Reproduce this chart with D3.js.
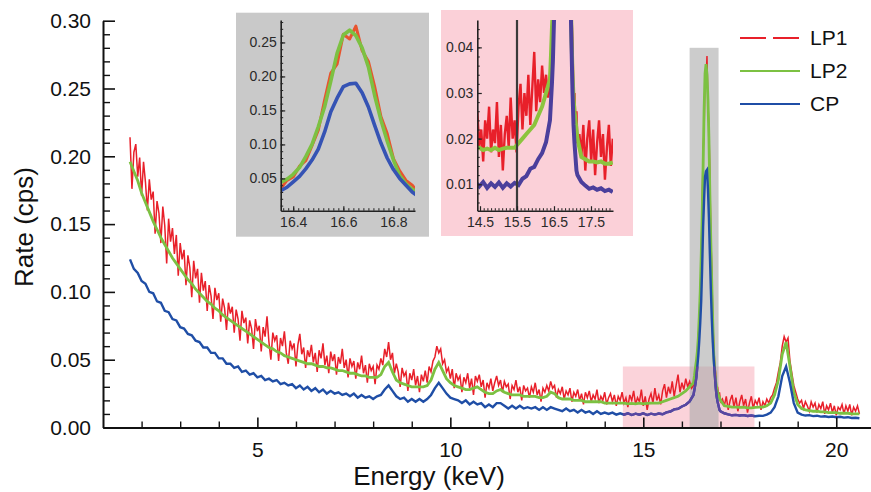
<!DOCTYPE html>
<html>
<head>
<meta charset="utf-8">
<script src="https://cdn.jsdelivr.net/npm/d3@7"></script>
<style>
  body { margin: 0; background: #fff; }
  text { font-family: "Liberation Sans", Arial, sans-serif; }
</style>
</head>
<body>
<div id="chart"></div>
<script>
// --- CP (0.1 keV bins from 1.7, fine bins over the 16.6 keV line, 0.1 keV bins from 17.1) ---
const cpLow = [
  0.124, 0.117, 0.114, 0.108, 0.106, 0.100, 0.099, 0.093, 0.092, 0.086,
  0.085, 0.080, 0.079, 0.074, 0.073, 0.069, 0.068, 0.064, 0.063, 0.059,
  0.059, 0.055, 0.055, 0.051, 0.051, 0.047, 0.047, 0.044, 0.045, 0.041,
  0.042, 0.039, 0.040, 0.037, 0.038, 0.035, 0.036, 0.034, 0.035, 0.032,
  0.033, 0.031, 0.032, 0.029, 0.031, 0.028, 0.030, 0.027, 0.029, 0.026,
  0.028, 0.025, 0.027, 0.025, 0.026, 0.024, 0.025, 0.023, 0.025, 0.022,
  0.024, 0.022, 0.023, 0.021, 0.023, 0.024, 0.028, 0.031, 0.027, 0.023,
  0.021, 0.022, 0.019, 0.021, 0.019, 0.021, 0.019, 0.021, 0.024, 0.029,
  0.033, 0.029, 0.025, 0.022, 0.021, 0.020, 0.018, 0.020, 0.017, 0.019,
  0.017, 0.018, 0.015, 0.017, 0.015, 0.018, 0.018, 0.016, 0.014, 0.016,
  0.014, 0.016, 0.014, 0.015, 0.014, 0.015, 0.013, 0.015, 0.013, 0.015,
  0.014, 0.013, 0.012, 0.014, 0.012, 0.013, 0.011, 0.013, 0.011, 0.012,
  0.010, 0.012, 0.010, 0.011, 0.010, 0.011, 0.0095, 0.0105, 0.0095, 0.0105,
  0.0092, 0.0102, 0.0094, 0.0104, 0.0092, 0.0102, 0.0095, 0.0103, 0.0098, 0.0112,
  0.0118, 0.0134, 0.0138, 0.0155, 0.0168, 0.0192
];
const cpPeak = [
  0.024, 0.028, 0.032, 0.037, 0.045, 0.053, 0.064, 0.077, 0.093, 0.118,
  0.148, 0.168, 0.185, 0.189, 0.190, 0.176, 0.155, 0.128, 0.102, 0.080,
  0.063, 0.050, 0.040, 0.030, 0.023, 0.019, 0.016, 0.013, 0.012
];
const cpHigh = [
  0.0105, 0.0097, 0.0090, 0.0093, 0.0088, 0.0091, 0.0085, 0.0088, 0.0083,
  0.0087, 0.0086, 0.0095, 0.011, 0.015, 0.023, 0.038, 0.045, 0.033, 0.018,
  0.011, 0.0095, 0.0088, 0.0091, 0.0084, 0.0087, 0.0080, 0.0083, 0.0078, 0.0081,
  0.0076, 0.0079, 0.0073, 0.0076, 0.0070, 0.0072, 0.0068
];

// --- LP2 (same bins as CP) ---
const lp2Low = [
  0.196, 0.189, 0.182, 0.173, 0.166, 0.159, 0.152, 0.146, 0.140, 0.135,
  0.130, 0.125, 0.121, 0.117, 0.113, 0.109, 0.106, 0.102, 0.099, 0.096,
  0.093, 0.091, 0.088, 0.086, 0.083, 0.081, 0.079, 0.077, 0.075, 0.073,
  0.071, 0.069, 0.067, 0.065, 0.063, 0.061, 0.059, 0.058, 0.056, 0.055,
  0.053, 0.052, 0.051, 0.050, 0.049, 0.048, 0.047, 0.047, 0.046, 0.045,
  0.045, 0.044, 0.044, 0.043, 0.042, 0.042, 0.041, 0.040, 0.040, 0.039,
  0.038, 0.038, 0.037, 0.037, 0.037, 0.039, 0.045, 0.048, 0.041, 0.035,
  0.033, 0.032, 0.031, 0.030, 0.030, 0.030, 0.030, 0.031, 0.035, 0.043,
  0.048, 0.042, 0.036, 0.033, 0.031, 0.030, 0.029, 0.028, 0.028, 0.029,
  0.030, 0.028, 0.026, 0.025, 0.025, 0.027, 0.028, 0.026, 0.025, 0.024,
  0.024, 0.024, 0.023, 0.023, 0.023, 0.023, 0.022, 0.022, 0.023, 0.026,
  0.025, 0.022, 0.021, 0.021, 0.021, 0.020, 0.020, 0.020, 0.019, 0.019,
  0.019, 0.019, 0.019, 0.018, 0.018, 0.018, 0.018, 0.018, 0.018, 0.0175,
  0.0178, 0.0175, 0.018, 0.0175, 0.0178, 0.018, 0.018, 0.018, 0.019, 0.020,
  0.021, 0.022, 0.023, 0.025, 0.027, 0.030
];
const lp2Peak = [
  0.033, 0.038, 0.044, 0.049, 0.056, 0.066, 0.082, 0.100, 0.126, 0.155,
  0.193, 0.234, 0.261, 0.268, 0.260, 0.242, 0.214, 0.172, 0.136, 0.105,
  0.077, 0.054, 0.042, 0.034, 0.029, 0.026, 0.024, 0.022, 0.020
];
const lp2High = [
  0.016, 0.0155, 0.015, 0.015, 0.0148, 0.015, 0.0145, 0.0145, 0.0148,
  0.015, 0.015, 0.016, 0.018, 0.024, 0.035, 0.054, 0.063, 0.045, 0.026,
  0.017, 0.014, 0.013, 0.0125, 0.012, 0.012, 0.0115, 0.0115, 0.011, 0.011,
  0.011, 0.0105, 0.0105, 0.0105, 0.010, 0.010, 0.010
];

// --- LP1 (noisier, 0.05 keV bins from 1.70 and from 17.05) ---
const lp1Low = [
  0.214, 0.176, 0.203, 0.209, 0.185, 0.199, 0.171, 0.196, 0.181, 0.160, 0.183, 0.168, 0.174, 0.143, 0.167, 0.158, 0.136, 0.163, 0.149, 0.121,
  0.154, 0.137, 0.147, 0.128, 0.142, 0.112, 0.136, 0.124, 0.131, 0.105, 0.127, 0.118, 0.096, 0.123, 0.110, 0.117, 0.092, 0.114, 0.101, 0.108,
  0.086, 0.105, 0.097, 0.080, 0.103, 0.094, 0.099, 0.078, 0.095, 0.088, 0.072, 0.092, 0.084, 0.089, 0.070, 0.087, 0.080, 0.064, 0.086, 0.077,
  0.081, 0.062, 0.079, 0.073, 0.058, 0.080, 0.071, 0.075, 0.056, 0.074, 0.067, 0.082, 0.063, 0.050, 0.070, 0.064, 0.068, 0.049, 0.066, 0.060,
  0.071, 0.055, 0.047, 0.064, 0.058, 0.062, 0.045, 0.061, 0.069, 0.054, 0.059, 0.044, 0.057, 0.052, 0.061, 0.048, 0.055, 0.041, 0.057, 0.051,
  0.062, 0.046, 0.053, 0.040, 0.056, 0.049, 0.054, 0.039, 0.052, 0.047, 0.058, 0.044, 0.050, 0.037, 0.051, 0.045, 0.049, 0.036, 0.048, 0.043,
  0.053, 0.040, 0.046, 0.033, 0.047, 0.042, 0.045, 0.032, 0.046, 0.043, 0.051, 0.046, 0.058, 0.052, 0.063, 0.050, 0.055, 0.040, 0.047, 0.041,
  0.030, 0.044, 0.038, 0.041, 0.027, 0.040, 0.035, 0.043, 0.031, 0.038, 0.026, 0.039, 0.034, 0.042, 0.033, 0.045, 0.041, 0.049, 0.052, 0.060,
  0.055, 0.058, 0.047, 0.050, 0.041, 0.044, 0.036, 0.043, 0.029, 0.040, 0.035, 0.038, 0.026, 0.037, 0.033, 0.040, 0.029, 0.036, 0.024, 0.038,
  0.034, 0.039, 0.030, 0.035, 0.022, 0.033, 0.029, 0.036, 0.027, 0.033, 0.038, 0.031, 0.035, 0.026, 0.034, 0.030, 0.032, 0.021, 0.031, 0.028,
  0.035, 0.026, 0.030, 0.020, 0.031, 0.027, 0.029, 0.022, 0.030, 0.026, 0.033, 0.024, 0.028, 0.019, 0.029, 0.026, 0.031, 0.027, 0.034, 0.029,
  0.031, 0.022, 0.028, 0.025, 0.030, 0.021, 0.027, 0.024, 0.029, 0.019, 0.026, 0.023, 0.028, 0.020, 0.025, 0.017, 0.026, 0.022, 0.027, 0.019,
  0.024, 0.021, 0.028, 0.018, 0.023, 0.020, 0.026, 0.017, 0.022, 0.025, 0.019, 0.024, 0.016, 0.023, 0.020, 0.026, 0.018, 0.022, 0.015, 0.024,
  0.020, 0.027, 0.017, 0.022, 0.019, 0.028, 0.016, 0.023, 0.013, 0.021, 0.025, 0.018, 0.029, 0.020, 0.024, 0.017, 0.027, 0.032, 0.022, 0.030,
  0.025, 0.034, 0.023, 0.031, 0.039, 0.026, 0.033, 0.028, 0.036, 0.030, 0.034, 0.029
];
const lp1Peak = [
  0.031, 0.036, 0.035, 0.047, 0.052, 0.068, 0.076, 0.098, 0.121, 0.165,
  0.205, 0.218, 0.262, 0.255, 0.274, 0.238, 0.222, 0.185, 0.141, 0.116,
  0.079, 0.061, 0.047, 0.040, 0.028, 0.030, 0.022, 0.026, 0.019
];
const lp1High = [
  0.021, 0.016, 0.023, 0.013, 0.020, 0.024, 0.015, 0.022, 0.012, 0.019, 0.024, 0.016, 0.021, 0.011, 0.018, 0.023, 0.014, 0.020, 0.017, 0.022,
  0.013, 0.019, 0.016, 0.021, 0.018, 0.022, 0.024, 0.029, 0.033, 0.041, 0.048, 0.060, 0.067, 0.063, 0.066, 0.049, 0.040, 0.031, 0.026, 0.021,
  0.018, 0.020, 0.014, 0.019, 0.016, 0.012, 0.019, 0.015, 0.018, 0.011, 0.017, 0.014, 0.019, 0.010, 0.016, 0.013, 0.018, 0.011, 0.016, 0.009,
  0.015, 0.013, 0.017, 0.010, 0.016, 0.012, 0.017, 0.009, 0.015, 0.012, 0.016, 0.010
];

const seriesNames = ["LP1", "LP2", "CP"];
const yTicksMain = [0, 0.05, 0.10, 0.15, 0.20, 0.25, 0.30];
const xTicksMain = [5, 10, 15, 20];

// bin centres (keV)
const lowEnergy = d3.range(17, 17 + cpLow.length).map(i => i / 10);          // 1.7 ..
const highEnergy = d3.range(171, 171 + cpHigh.length).map(i => i / 10);      // 17.1 ..
const peakEnergy = d3.range(0, cpPeak.length).map(i => +(16.3 + i * 0.025).toFixed(3)); // 16.300 ..
const lp1LowEnergy = d3.range(34, 34 + lp1Low.length).map(i => i / 20);      // 1.70 ..
const lp1HighEnergy = d3.range(341, 341 + lp1High.length).map(i => i / 20);  // 17.05 ..

const width = 871, height = 492;
const svg = d3.select("#chart").append("svg")
  .attr("width", width)
  .attr("height", height);

function build(lowE, low, peak, highE, high) {
  return [
    ...lowE.map((e, i) => ({ e, v: low[i] })),
    ...peakEnergy.map((e, i) => ({ e, v: peak[i] })),
    ...highE.map((e, i) => ({ e, v: high[i] }))
  ];
}
const lp1 = build(lp1LowEnergy, lp1Low, lp1Peak, lp1HighEnergy, lp1High);
const lp2 = build(lowEnergy, lp2Low, lp2Peak, highEnergy, lp2High);
const cp = build(lowEnergy, cpLow, cpPeak, highEnergy, cpHigh);

const color = d3.scaleOrdinal().domain(seriesNames).range(["#e8202a", "#7cc142", "#1f4ea6"]);

// --- main scales ---
const x = d3.scaleLinear().domain([1, 20.9]).range([103, 871]);
const y = d3.scaleLinear().domain([0, 0.30]).range([427.5, 20.7]);

const defs = svg.append("defs");
defs.append("clipPath").attr("id", "pinkClip").append("rect")
  .attr("x", x(14.47)).attr("y", y(0.045))
  .attr("width", x(17.88) - x(14.47)).attr("height", y(0) - y(0.045));

// --- highlight bands ---
svg.append("rect")
  .attr("x", x(14.47)).attr("y", y(0.045))
  .attr("width", x(17.88) - x(14.47)).attr("height", y(0) - y(0.045))
  .attr("fill", "#fbd3da");
svg.append("rect")
  .attr("x", x(16.2)).attr("y", y(0.28))
  .attr("width", x(16.95) - x(16.2)).attr("height", y(0) - y(0.28))
  .attr("fill", "#aaaaaa").attr("opacity", 0.6);

// --- curves ---
const line = d3.line().x(d => x(d.e)).y(d => y(d.v));
svg.append("path").datum(lp1).attr("d", line)
  .attr("fill", "none").attr("stroke", color("LP1")).attr("stroke-width", 1.5);
svg.append("path").datum(lp2).attr("d", line)
  .attr("fill", "none").attr("stroke", color("LP2")).attr("stroke-width", 2.8);
svg.append("path").datum(cp).attr("d", line)
  .attr("fill", "none").attr("stroke", color("CP")).attr("stroke-width", 2.4);
svg.append("path").datum(cp).attr("d", line)
  .attr("clip-path", "url(#pinkClip)")
  .attr("fill", "none").attr("stroke", "#5a46a0").attr("stroke-width", 2.4);

// --- axes ---
function styleAxis(g, size) {
  g.selectAll("path.domain").attr("stroke", "#111").attr("stroke-width", 2);
  g.selectAll(".tick line").attr("stroke", "#111").attr("stroke-width", 1.6);
  g.selectAll("text").attr("font-family", "Liberation Sans, Arial, sans-serif")
    .attr("font-size", size).attr("fill", "#111");
}

svg.append("g").attr("transform", `translate(${x(1)},0)`)
  .call(d3.axisLeft(y).tickValues(d3.range(1, 30).map(i => i / 100).filter(v => Math.round(v * 100) % 5 !== 0))
    .tickSize(-7).tickFormat("").tickSizeOuter(0))
  .call(g => g.select(".domain").remove())
  .call(g => g.selectAll(".tick line").attr("stroke", "#111").attr("stroke-width", 1.4));

svg.append("g").attr("transform", `translate(${x(1)},0)`)
  .call(d3.axisLeft(y).tickValues(yTicksMain).tickSize(-12).tickSizeOuter(0)
    .tickPadding(12).tickFormat(d3.format(".2f")))
  .call(g => styleAxis(g, 21));

svg.append("g").attr("transform", `translate(0,${y(0)})`)
  .call(d3.axisBottom(x).tickValues(d3.range(2, 21).filter(v => v % 5 !== 0))
    .tickSize(-6).tickFormat("").tickSizeOuter(0))
  .call(g => g.select(".domain").remove())
  .call(g => g.selectAll(".tick line").attr("stroke", "#111").attr("stroke-width", 1.4));

svg.append("g").attr("transform", `translate(0,${y(0)})`)
  .call(d3.axisBottom(x).tickValues(xTicksMain).tickSize(-10).tickSizeOuter(0).tickPadding(15))
  .call(g => styleAxis(g, 21));

svg.append("text")
  .attr("x", 429).attr("y", 485)
  .attr("text-anchor", "middle").attr("font-size", 26).attr("fill", "#111")
  .text("Energy (keV)");

svg.append("text")
  .attr("transform", "rotate(-90)")
  .attr("x", -227).attr("y", 33)
  .attr("text-anchor", "middle").attr("font-size", 26).attr("fill", "#111")
  .text("Rate (cps)");

// --- legend ---
const legend = svg.append("g");
seriesNames.forEach((name, i) => {
  const ly = 38 + i * 33;
  legend.append("line")
    .attr("x1", 740).attr("x2", 800).attr("y1", ly).attr("y2", ly)
    .attr("stroke", color(name)).attr("stroke-width", 2.2)
    .attr("stroke-dasharray", name === "LP1" ? "26,7" : null);
  legend.append("text")
    .attr("x", 810).attr("y", ly).attr("dy", "0.35em")
    .attr("font-size", 21).attr("fill", "#111")
    .text(name);
});

// --- inset 1: the 16.6 keV line ---
const in1 = svg.append("g");
in1.append("rect").attr("x", 236).attr("y", 12.7).attr("width", 193).attr("height", 224)
  .attr("fill", "#c9c9c9");
const x1 = d3.scaleLinear().domain([16.35, 16.886]).range([280.7, 415]);
const y1 = d3.scaleLinear().domain([0.0025, 0.283]).range([210.7, 20]);
defs.append("clipPath").attr("id", "in1Clip").append("rect")
  .attr("x", 280.7).attr("y", 20).attr("width", 134.3).attr("height", 190.7);
const line1 = d3.line().x(d => x1(d.e)).y(d => y1(d.v));
const win1 = d => d.e >= 16.34 && d.e <= 16.9;
const in1Colors = { LP1: "#e8542e", LP2: "#7cc142", CP: "#3553b4" };
[["LP1", lp1], ["LP2", lp2], ["CP", cp]].forEach(([name, data]) => {
  in1.append("path").datum(data.filter(win1)).attr("d", line1)
    .attr("clip-path", "url(#in1Clip)")
    .attr("fill", "none").attr("stroke", in1Colors[name])
    .attr("stroke-width", name === "LP1" ? 3 : 3.6)
    .attr("stroke-linejoin", "round");
});

function insetAxes(g, xs, ys, xMajor, xMinor, yMajor, yMinor, yFmt) {
  const [xl] = xs.range();
  const [yb] = ys.range();
  g.append("g").attr("transform", `translate(${xl},0)`)
    .call(d3.axisLeft(ys).tickValues(yMinor).tickSize(-2.5).tickFormat("").tickSizeOuter(0))
    .call(a => a.select(".domain").remove())
    .call(a => a.selectAll(".tick line").attr("stroke", "#222"));
  g.append("g").attr("transform", `translate(${xl},0)`)
    .call(d3.axisLeft(ys).tickValues(yMajor).tickSize(-4.5).tickSizeOuter(0)
      .tickPadding(4).tickFormat(d3.format(yFmt)))
    .call(a => {
      a.select(".domain").attr("stroke", "#222").attr("stroke-width", 1.6);
      a.selectAll(".tick line").attr("stroke", "#222").attr("stroke-width", 1.2);
      a.selectAll("text").attr("font-family", "Liberation Sans, Arial, sans-serif")
        .attr("font-size", 14).attr("fill", "#2a2a2a");
    });
  g.append("g").attr("transform", `translate(0,${yb})`)
    .call(d3.axisBottom(xs).tickValues(xMinor).tickSize(-2.5).tickFormat("").tickSizeOuter(0))
    .call(a => a.select(".domain").remove())
    .call(a => a.selectAll(".tick line").attr("stroke", "#222"));
  g.append("g").attr("transform", `translate(0,${yb})`)
    .call(d3.axisBottom(xs).tickValues(xMajor).tickSize(-4.5).tickSizeOuter(0)
      .tickPadding(6).tickFormat(d3.format(".1f")))
    .call(a => {
      a.select(".domain").attr("stroke", "#222").attr("stroke-width", 1.6);
      a.selectAll(".tick line").attr("stroke", "#222").attr("stroke-width", 1.2);
      a.selectAll("text").attr("font-family", "Liberation Sans, Arial, sans-serif")
        .attr("font-size", 14).attr("fill", "#2a2a2a");
    });
}

insetAxes(in1, x1, y1,
  [16.4, 16.6, 16.8],
  d3.range(818, 845).map(i => i / 50),
  [0.05, 0.10, 0.15, 0.20, 0.25],
  d3.range(1, 29).map(i => i / 100),
  ".2f");

// --- inset 2: background around the line ---
const in2 = svg.append("g");
in2.append("rect").attr("x", 441).attr("y", 10).attr("width", 192).attr("height", 226)
  .attr("fill", "#fbd0d8");
const x2data = d3.scaleLinear().domain([14.45, 17.88]).range([477.3, 612]);
const x2 = d3.scaleLinear().domain([14.427, 18.095]).range([477.3, 613]);
const y2 = d3.scaleLinear().domain([0.0042, 0.046]).range([210.7, 20]);
defs.append("clipPath").attr("id", "in2Clip").append("rect")
  .attr("x", 477.3).attr("y", 20).attr("width", 135.7).attr("height", 190.7);
const line2 = d3.line().x(d => x2data(d.e)).y(d => y2(d.v));
const win2 = d => d.e >= 14.4 && d.e <= 17.9;
const in2Colors = { LP1: "#e8202a", LP2: "#8cc43e", CP: "#4b3f9c" };
[["LP1", lp1], ["LP2", lp2], ["CP", cp]].forEach(([name, data]) => {
  in2.append("path").datum(data.filter(win2)).attr("d", line2)
    .attr("clip-path", "url(#in2Clip)")
    .attr("fill", "none").attr("stroke", in2Colors[name])
    .attr("stroke-width", name === "LP1" ? 2.4 : 4);
});
in2.append("line")
  .attr("x1", x2(15.5)).attr("x2", x2(15.5)).attr("y1", 20).attr("y2", 210.7)
  .attr("stroke", "#3a3a3a").attr("stroke-width", 2.2);

insetAxes(in2, x2, y2,
  [14.5, 15.5, 16.5, 17.5],
  d3.range(145, 181).map(i => i / 10),
  [0.01, 0.02, 0.03, 0.04],
  d3.range(3, 23).map(i => i / 500),
  ".2f");
</script>
</body>
</html>
